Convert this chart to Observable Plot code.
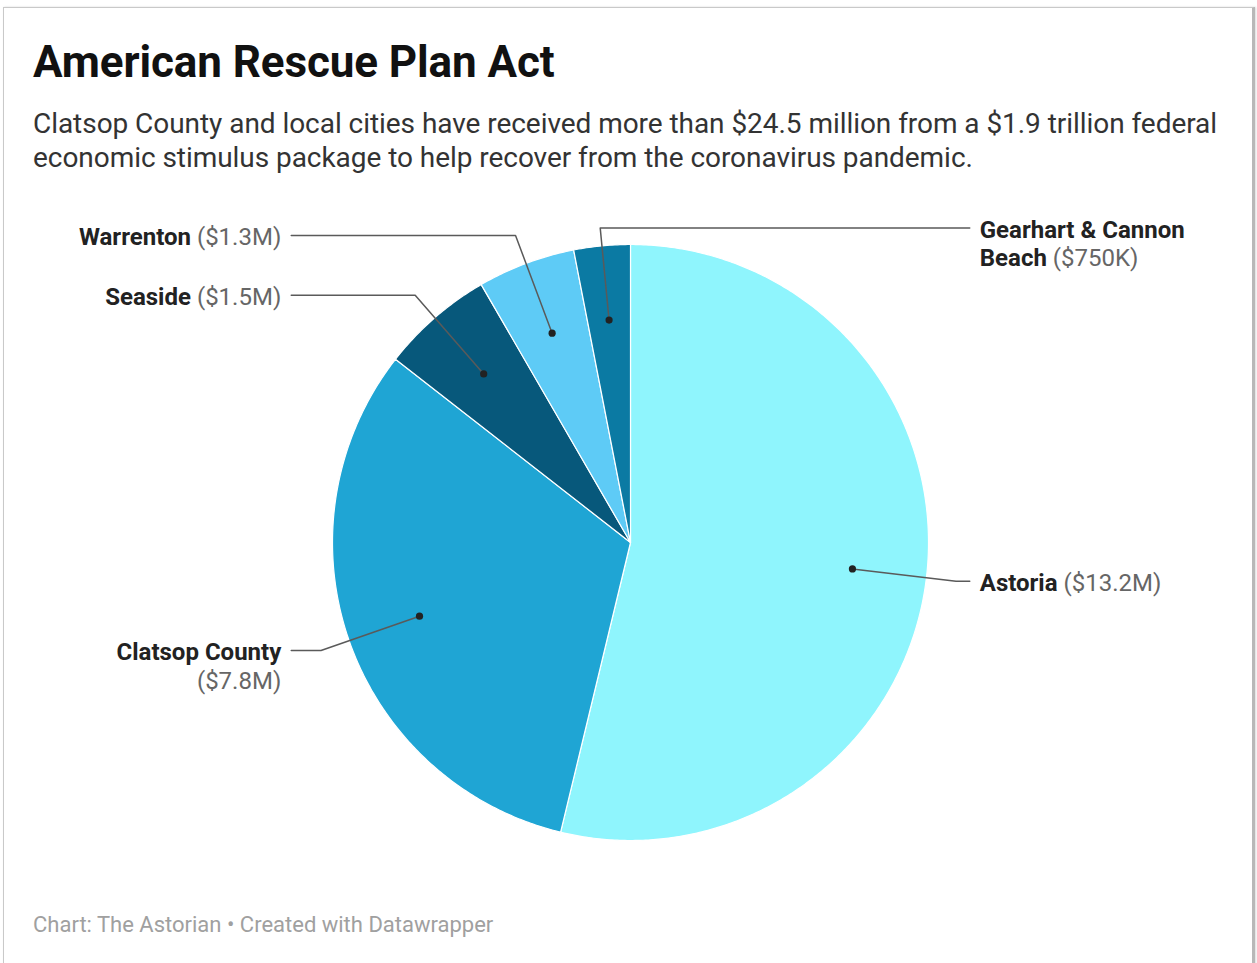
<!DOCTYPE html>
<html>
<head>
<meta charset="utf-8">
<script src="https://cdn.jsdelivr.net/npm/d3@7"></script>
<script src="https://cdn.jsdelivr.net/npm/@observablehq/plot@0.6"></script>
<style>
  html, body { margin: 0; padding: 0; background: #fff; }
  body { width: 1257px; height: 963px; position: relative; overflow: hidden; font-family: Roboto, "Noto Sans", sans-serif; }
  #frame { position: absolute; left: 3px; top: 7px; width: 1248px; height: 1000px; border: 1px solid #c9c9c9; border-right: 3px solid #b8b8b8; box-shadow: 1px 0 2px rgba(0,0,0,0.15); }
  #title { position: absolute; left: 33px; top: 40px; margin: 0; font-size: 44px; line-height: 1; font-weight: 700; color: #111; letter-spacing: -0.1px; white-space: nowrap; }
  #subtitle { position: absolute; left: 33px; top: 107px; width: 1215px; margin: 0; font-size: 28px; line-height: 34px; color: #333; letter-spacing: -0.05px; }
  #chart { position: absolute; left: 0; top: 190px; }
  #caption { position: absolute; left: 33px; top: 914px; margin: 0; font-size: 22px; line-height: 1; color: #a0a0a0; white-space: nowrap; }
</style>
</head>
<body>
<div id="frame"></div>
<h1 id="title">American Rescue Plan Act</h1>
<p id="subtitle">Clatsop County and local cities have received more than $24.5 million from a $1.9 trillion federal economic stimulus package to help recover from the coronavirus pandemic.</p>
<div id="chart"></div>
<p id="caption">Chart: The Astorian • Created with Datawrapper</p>
<script>
// ---- data ----
const names = ["Astoria", "Clatsop County", "Seaside", "Warrenton", "Gearhart & Cannon Beach"];
const values = [13.2, 7.8, 1.5, 1.3, 0.75]; // millions of dollars
const colors = ["#8ff5fd", "#1fa5d4", "#07587b", "#5ecbf6", "#0b7aa3"];

// ---- layout (not data) ----
const W = 1257, H = 700;
const R = 298;               // pie radius in px
const cx = 630, cy = 352;    // pie centre inside the svg, px
const dotR = 0.75;           // leader dot at 75% of radius
const labelR = {"Gearhart & Cannon Beach": 1.06};
const labelSide = {"Gearhart & Cannon Beach": 1};
const defaultLabelR = 1.10;
const labelX = 1.172;        // label column distance (radius units)
const gap = 10 / R;
const wordsOnFirstLine = {"Clatsop County": 2, "Gearhart & Cannon Beach": 3};
const fontSize = 24;
const lineHeight = 1.17;

const fmt = v => v >= 1 ? `$${v}M` : `$${Math.round(v * 1000)}K`;

const arcs = d3.pie().sort(null).value(d => d.value)(names.map((n, i) => ({name: n, value: values[i]})));

// slice polygons (unit radius, y up, angle clockwise from 12 o'clock)
const polys = [];
arcs.forEach(a => {
  polys.push({name: a.data.name, x: 0, y: 0});
  const n = Math.max(2, Math.ceil((a.endAngle - a.startAngle) / (Math.PI / 360)));
  for (let k = 0; k <= n; k++) {
    const t = a.startAngle + (a.endAngle - a.startAngle) * k / n;
    polys.push({name: a.data.name, x: Math.sin(t), y: Math.cos(t)});
  }
  polys.push({name: a.data.name, x: 0, y: 0});
});

const dots = [], leaders = [], labels = [];
arcs.forEach(a => {
  const m = (a.startAngle + a.endAngle) / 2;
  const s = Math.sin(m), c = Math.cos(m);
  const name = a.data.name;
  const lr = labelR[name] ?? defaultLabelR;
  const side = labelSide[name] ?? (s >= 0 ? 1 : -1);
  dots.push({name, x: dotR * s, y: dotR * c});
  leaders.push({name, x: dotR * s, y: dotR * c});
  leaders.push({name, x: lr * s, y: lr * c});
  leaders.push({name, x: side * (labelX - gap), y: lr * c});
  const full = `${name} (${fmt(a.data.value)})`;
  const words = full.split(" ");
  const k = wordsOnFirstLine[name];
  const text = k ? words.slice(0, k).join(" ") + "\n" + words.slice(k).join(" ") : full;
  labels.push({name, x: side * labelX, y: lr * c, text, side});
});

const textOpts = {x: "x", y: "y", text: "text", lineAnchor: "top", fontSize, lineHeight, dy: -Math.round(fontSize * 0.42), fill: "#222"};

const plot = Plot.plot({
  width: W, height: H,
  margin: 0,
  x: {domain: [-cx / R, (W - cx) / R], range: [0, W], axis: null},
  y: {domain: [-(H - cy) / R, cy / R], range: [H, 0], axis: null},
  color: {domain: names, range: colors},
  style: {fontFamily: "Roboto, 'Noto Sans', sans-serif", background: "transparent", overflow: "visible"},
  marks: [
    Plot.line(polys, {x: "x", y: "y", z: "name", fill: "name", stroke: "white", strokeWidth: 1.2, curve: "linear"}),
    Plot.line(leaders, {x: "x", y: "y", z: "name", stroke: "#5a5a5a", strokeWidth: 1.5, curve: "linear"}),
    Plot.dot(dots, {x: "x", y: "y", r: 3.6, fill: "#222", stroke: "none"}),
    Plot.text(labels.filter(d => d.side < 0), {...textOpts, textAnchor: "end"}),
    Plot.text(labels.filter(d => d.side > 0), {...textOpts, textAnchor: "start"})
  ]
});

// style label parts: name bold, value in parentheses regular gray
function styleNode(node) {
  const txt = node.textContent;
  const m = txt.match(/^(.*?)(\(.*\))?$/);
  while (node.firstChild) node.removeChild(node.firstChild);
  const ns = "http://www.w3.org/2000/svg";
  if (m[1]) {
    const b = document.createElementNS(ns, "tspan");
    b.setAttribute("font-weight", "700");
    b.setAttribute("fill", "#222");
    b.textContent = m[1];
    node.appendChild(b);
  }
  if (m[2]) {
    const r = document.createElementNS(ns, "tspan");
    r.setAttribute("font-weight", "400");
    r.setAttribute("fill", "#666");
    r.textContent = m[2];
    node.appendChild(r);
  }
}
plot.querySelectorAll('g[aria-label="text"] text').forEach(t => {
  const spans = t.querySelectorAll(":scope > tspan");
  if (spans.length) spans.forEach(styleNode); else styleNode(t);
});

document.getElementById("chart").appendChild(plot);
</script>
</body>
</html>
